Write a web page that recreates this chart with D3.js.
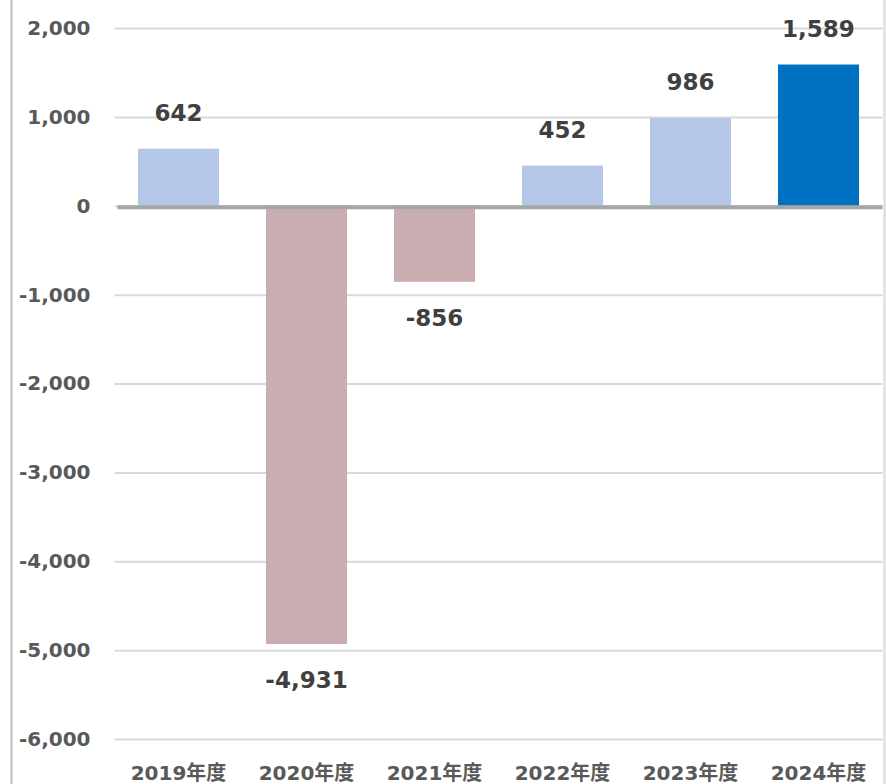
<!DOCTYPE html>
<html>
<head>
<meta charset="utf-8">
<script src="https://cdn.jsdelivr.net/npm/d3@7"></script>
<style>
  body { margin: 0; background: #fff; }
  svg { display: block; }
  .tick text { font-family: "DejaVu Sans", "Noto Sans CJK JP", sans-serif; font-weight: bold; }
</style>
</head>
<body>
<script>
// chart data
const categories = ["2019年度", "2020年度", "2021年度", "2022年度", "2023年度", "2024年度"];
const values = [642, -4931, -856, 452, 986, 1589];
const yTicks = [2000, 1000, 0, -1000, -2000, -3000, -4000, -5000, -6000];

const width = 886, height = 784;
const plot = {left: 114.5, right: 882.5, top: 28, bottom: 739};

// plain hyphen for negatives, like the original
const fmt = d => d3.format(",")(d).replace("\u2212", "-");

const svg = d3.select("body").append("svg")
    .attr("width", width)
    .attr("height", height);

const x = d3.scaleBand()
    .domain(categories)
    .range([plot.left, plot.right])
    .paddingInner(0.367)
    .paddingOuter(0.1835);

const y = d3.scaleLinear()
    .domain([-6000, 2000])
    .range([plot.bottom, plot.top]);

function barColor(d, i) {
    if (i === categories.length - 1) return "#0070c0"; // latest year highlighted
    return d < 0 ? "#c9adb1" : "#b4c7e7";
}

// frame lines left/right
svg.append("line").attr("x1", 11.5).attr("x2", 11.5).attr("y1", 0).attr("y2", height)
    .attr("stroke", "#bfbfbf").attr("stroke-width", 2);
svg.append("line").attr("x1", 884.5).attr("x2", 884.5).attr("y1", 0).attr("y2", height)
    .attr("stroke", "#d9d9d9").attr("stroke-width", 2);

// gridlines + y labels
const yAxis = d3.axisLeft(y)
    .tickValues(yTicks)
    .tickSize(-(plot.right - plot.left))
    .tickPadding(24)
    .tickFormat(fmt);

const gy = svg.append("g")
    .attr("transform", `translate(${plot.left},0)`)
    .call(yAxis);
gy.select(".domain").remove();
gy.selectAll(".tick line").attr("stroke", "#d9d9d9").attr("stroke-width", 2);
gy.selectAll(".tick text")
    .attr("fill", "#595959")
    .style("font-size", "20px");

// bars
svg.selectAll(".bar")
    .data(values)
    .enter()
    .append("rect")
    .attr("class", "bar")
    .attr("x", (d, i) => x(categories[i]))
    .attr("width", x.bandwidth())
    .attr("y", d => y(Math.max(0, d)))
    .attr("height", d => Math.abs(y(d) - y(0)))
    .attr("fill", barColor);

// zero line
svg.append("line")
    .attr("x1", plot.left + 3).attr("x2", plot.right)
    .attr("y1", y(0) + 1.5).attr("y2", y(0) + 1.5)
    .attr("stroke", "#a6a6a6").attr("stroke-width", 4);

// value labels
svg.selectAll(".val")
    .data(values)
    .enter()
    .append("text")
    .attr("class", "val")
    .attr("x", (d, i) => x(categories[i]) + x.bandwidth() / 2)
    .attr("y", d => d >= 0 ? y(d) - 28 : y(d) + 44)
    .attr("text-anchor", "middle")
    .attr("fill", "#404040")
    .style("font-family", "'DejaVu Sans', sans-serif")
    .style("font-weight", "bold")
    .style("font-size", "23px")
    .text(fmt);

// category labels
const xAxis = d3.axisBottom(x).tickSize(0).tickPadding(0);
const gx = svg.append("g")
    .attr("transform", `translate(0,${plot.bottom + 27})`)
    .call(xAxis);
gx.select(".domain").remove();
gx.selectAll(".tick text")
    .attr("fill", "#595959")
    .attr("dy", "0.71em")
    .style("font-size", "20px");
</script>
</body>
</html>
